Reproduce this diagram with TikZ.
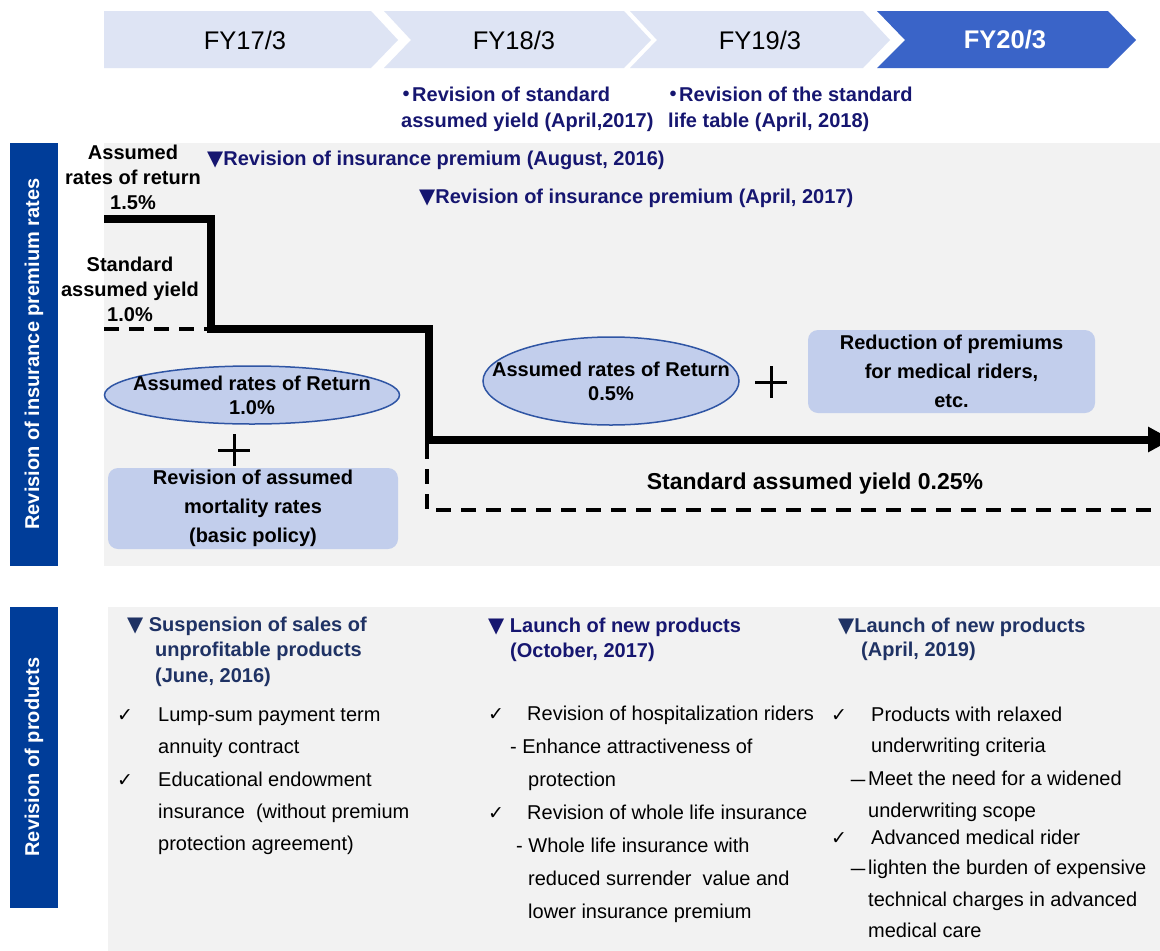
\documentclass[tikz,border=0pt]{standalone}
\usepackage{fontspec}
\setmainfont{Liberation Sans}
\newfontfamily\symfont{DejaVu Sans}
\newfontfamily\cjkfont{Noto Sans CJK JP}
\usetikzlibrary{arrows.meta,shapes.geometric,positioning}

\definecolor{chevlight}{RGB}{222,228,244}
\definecolor{chevdark}{RGB}{58,100,200}
\definecolor{bandblue}{RGB}{0,61,153}
\definecolor{panelgray}{RGB}{242,242,242}
\definecolor{navytxt}{RGB}{22,22,112}
\definecolor{headtxt}{RGB}{31,50,100}
\definecolor{ovalfill}{RGB}{194,206,236}
\definecolor{ovalline}{RGB}{47,85,164}

\newcommand{\tick}{{\symfont\fontsize{19}{19}\selectfont ✓}}
\newcommand{\tri}{{\symfont\fontsize{21}{21}\selectfont ▼}}
\newcommand{\jdot}{\makebox[11pt][c]{\cjkfont ・}}
\newcommand{\fwdash}{\raisebox{-3pt}{\cjkfont －}}

\tikzset{
  yeartxt/.style={font=\fontsize{25.5}{30}\selectfont},
  boldtxt/.style={font=\fontsize{20}{25}\selectfont\bfseries, align=center, inner sep=0pt},
  navyline/.style={font=\fontsize{20}{25}\selectfont\bfseries, text=navytxt, anchor=base west, inner sep=0pt},
  headline/.style={font=\fontsize{20}{25}\selectfont\bfseries, text=headtxt, anchor=base west, inner sep=0pt},
  itemline/.style={font=\fontsize{20}{25}\selectfont, anchor=base west, inner sep=0pt},
  bandtxt/.style={font=\fontsize{20}{22}\selectfont\bfseries, text=white, rotate=90},
  ovalbox/.style={ellipse, draw=ovalline, line width=1.5pt, fill=ovalfill, inner sep=0pt},
  roundbox/.style={rectangle, rounded corners=10pt, fill=ovalfill, align=center, inner sep=0pt,
    font=\fontsize{20}{29}\selectfont\bfseries},
  rateline/.style={line width=8pt, line join=miter},
  yieldline/.style={line width=4pt, dash pattern=on 15pt off 10pt}
}

\begin{document}
\begin{tikzpicture}[x=1pt,y=-1pt]
  \clip (0,0) rectangle (1160,951);
  \fill[white] (0,0) rectangle (1160,951);

  % timeline
  \fill[chevlight] (104,11) -- (371,11) -- (398,40) -- (371,68) -- (104,68) -- cycle;
  \fill[chevlight] (384,11) -- (624,11) -- (651,40) -- (624,68) -- (384,68) -- (411,40) -- cycle;
  \fill[chevlight] (630,11) -- (863,11) -- (890,40) -- (863,68) -- (630,68) -- (657,40) -- cycle;
  \fill[chevdark] (877,11) -- (1108,11) -- (1136,40) -- (1108,68) -- (877,68) -- (905,40) -- cycle;
  \node[yeartxt] (fy17) at (245,40) {FY17/3};
  \node[yeartxt] (fy18) at (514,40) {FY18/3};
  \node[yeartxt] (fy19) at (760,40) {FY19/3};
  \node[yeartxt, text=white, font=\fontsize{25.5}{30}\selectfont\bfseries] (fy20) at (1005,40) {FY20/3};

  % notes under the timeline
  \node[navyline] (stdA) at (401,101) {\jdot Revision of standard};
  \node[navyline] (stdB) at (401,127) {assumed yield (April,2017)};
  \node[navyline] (lifeA) at (668,101) {\jdot Revision of the standard};
  \node[navyline] (lifeB) at (668,127) {life table (April, 2018)};

  % side bands and panels
  \fill[bandblue] (10,143) rectangle (58,566);
  \fill[bandblue] (10,607) rectangle (58,908);
  \fill[panelgray] (104,143) rectangle (1160,566);
  \fill[panelgray] (108,607) rectangle (1160,951);
  \node[bandtxt] (bandrate) at (34,354) {Revision of insurance premium rates};
  \node[bandtxt] (bandprod) at (34,757) {Revision of products};

  % premium rate section
  \node[boldtxt] (ret15) at (133,177) {Assumed\\rates of return\\1.5\%};
  \node[boldtxt] (yld10) at (130,289) {Standard\\assumed yield\\1.0\%};
  \node[navyline] (revAug) at (207,165) {\tri Revision of insurance premium (August, 2016)};
  \node[navyline] (revApr) at (419,203) {\tri Revision of insurance premium (April, 2017)};

  \draw[rateline, -{Triangle[length=24pt,width=24pt]}]
    (104,219) -- (211,219) -- (211,329) -- (429,329) -- (429,439.5) -- (1172,439.5);
  \draw[yieldline] (104,329) -- (207,329);
  \draw[yieldline] (427,444) -- (427,510) -- (1160,510);
  \node[boldtxt, font=\fontsize{23}{28}\selectfont\bfseries] (yld025) at (815,484) {Standard assumed yield 0.25\%};

  \node[ovalbox, minimum width=295pt, minimum height=58pt] (ovalA) at (252,395) {};
  \node[boldtxt, font=\fontsize{20}{24}\selectfont\bfseries] (ovalAtxt) at (ovalA) {Assumed rates of Return\\1.0\%};
  \draw[line width=3pt] (218,450) -- (250,450) (234,434) -- (234,466);
  \node[roundbox, minimum width=290pt, minimum height=81pt] (mortA) at (253,508.5) {Revision of assumed\\mortality rates\\(basic policy)};

  \node[ovalbox, minimum width=256pt, minimum height=88pt] (ovalB) at (611,381) {};
  \node[boldtxt, font=\fontsize{20}{24}\selectfont\bfseries] (ovalBtxt) at (ovalB) {Assumed rates of Return\\0.5\%};
  \draw[line width=3pt] (755,382) -- (787,382) (771,366) -- (771,398);
  \node[roundbox, minimum width=287pt, minimum height=83pt] (riderB) at (951.5,371.5) {Reduction of premiums\\for medical riders,\\etc.};

  % product section, column 1
  \node[headline] (susA) at (127,631) {\tri\ Suspension of sales of};
  \node[headline] (susB) at (155,656) {unprofitable products};
  \node[headline] (susC) at (155,682) {(June, 2016)};
  \node[itemline] (chkA1) at (117,721) {\tick};
  \node[itemline] (lumpA) at (158,721) {Lump-sum payment term};
  \node[itemline] (lumpB) at (158,753) {annuity contract};
  \node[itemline] (chkA2) at (117,786) {\tick};
  \node[itemline] (eduA) at (158,786) {Educational endowment};
  \node[itemline] (eduB) at (158,818) {insurance\ \ (without premium};
  \node[itemline] (eduC) at (158,850) {protection agreement)};

  % column 2
  \node[navyline] (octA) at (488,632) {\tri\ Launch of new products};
  \node[navyline] (octB) at (510,657) {(October, 2017)};
  \node[itemline] (chkB1) at (488,720) {\tick};
  \node[itemline] (hospA) at (527,720) {Revision of hospitalization riders};
  \node[itemline] (hospB) at (510,753) {- Enhance attractiveness of};
  \node[itemline] (hospC) at (528,786) {protection};
  \node[itemline] (chkB2) at (488,819) {\tick};
  \node[itemline] (wholeA) at (527,819) {Revision of whole life insurance};
  \node[itemline] (wholeB) at (516,852) {- Whole life insurance with};
  \node[itemline] (wholeC) at (528,885) {reduced surrender\ \ value and};
  \node[itemline] (wholeD) at (528,918) {lower insurance premium};

  % column 3
  \node[headline] (aprA) at (838,632) {\tri Launch of new products};
  \node[headline] (aprB) at (861,656) {(April, 2019)};
  \node[itemline] (chkC1) at (831,721) {\tick};
  \node[itemline] (relaxA) at (871,721) {Products with relaxed};
  \node[itemline] (relaxB) at (871,752) {underwriting criteria};
  \node[itemline] (relaxC) at (848,785) {\fwdash Meet the need for a widened};
  \node[itemline] (relaxD) at (868,817) {underwriting scope};
  \node[itemline] (chkC2) at (831,844) {\tick};
  \node[itemline] (medA) at (871,844) {Advanced medical rider};
  \node[itemline] (medB) at (848,874) {\fwdash lighten the burden of expensive};
  \node[itemline] (medC) at (868,906) {technical charges in advanced};
  \node[itemline] (medD) at (868,937) {medical care};
\end{tikzpicture}
\end{document}
